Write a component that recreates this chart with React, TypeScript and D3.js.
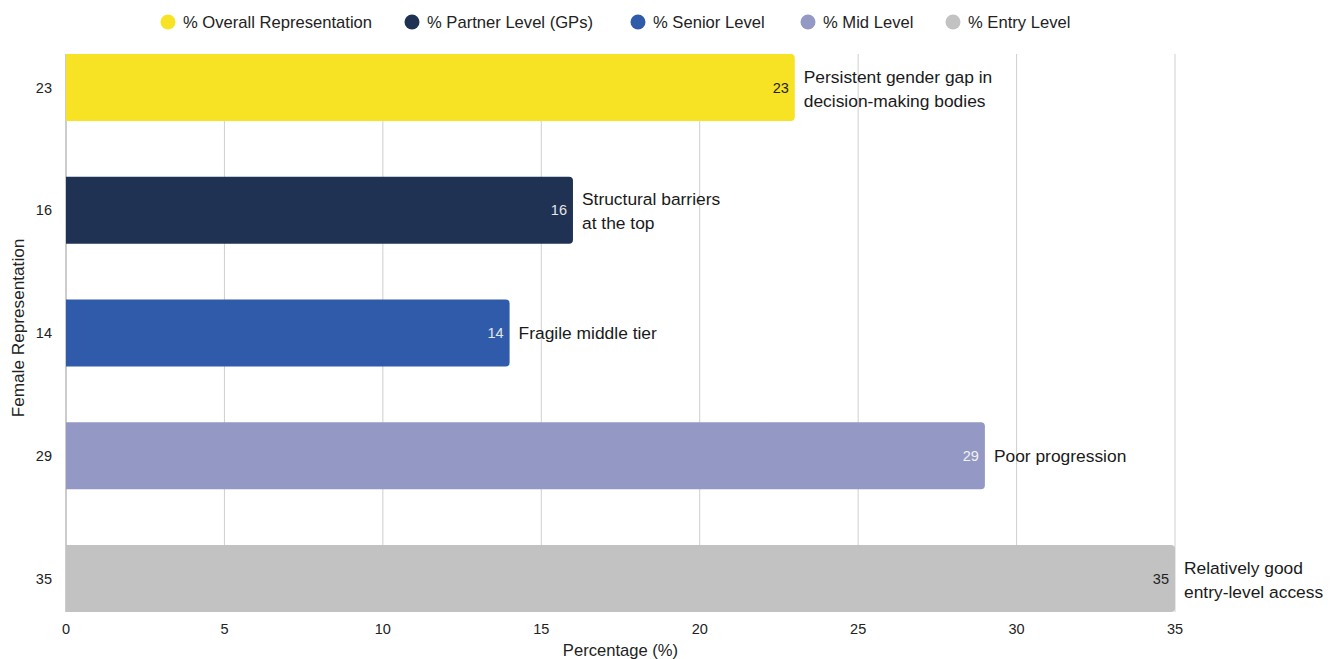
import React from "react";
import * as d3 from "d3";

const categories = ["23", "16", "14", "29", "35"];
const seriesNames = [
  "% Overall Representation",
  "% Partner Level (GPs)",
  "% Senior Level",
  "% Mid Level",
  "% Entry Level",
];
const values = [23, 16, 14, 29, 35];
const notes = [
  ["Persistent gender gap in", "decision-making bodies"],
  ["Structural barriers", "at the top"],
  ["Fragile middle tier"],
  ["Poor progression"],
  ["Relatively good", "entry-level access"],
];
const colors = ["#F7E224", "#1F3253", "#2F5BAA", "#9498C4", "#C2C2C2"];
const valueColors = ["#222", "#E6E6E6", "#E6E6E6", "#F2F2F2", "#222"];
const xTicks = [0, 5, 10, 15, 20, 25, 30, 35];
const legendX = [168, 412, 638, 808, 953];

const W = 1337;
const H = 659;
const M = { left: 66, right: 1175, top: 54, bottom: 612 };
const FONT = "'Liberation Sans', Arial, Helvetica, sans-serif";

function barPath(x0: number, x1: number, y: number, h: number, r: number) {
  const rr = Math.min(r, (x1 - x0) / 2, h / 2);
  return `M${x0},${y}H${x1 - rr}Q${x1},${y} ${x1},${y + rr}V${y + h - rr}Q${x1},${y + h} ${x1 - rr},${y + h}H${x0}Z`;
}

export default function App() {
  const x = d3.scaleLinear().domain([0, 35]).range([M.left, M.right]);
  const y = d3
    .scaleBand<string>()
    .domain(categories)
    .range([M.top, M.bottom])
    .paddingInner(0.454)
    .paddingOuter(0);
  const bw = y.bandwidth();

  return (
    <svg
      width={W}
      height={H}
      style={{ position: "absolute", left: 0, top: 0, background: "#fff", fontFamily: FONT }}
    >
      {/* legend */}
      {seriesNames.map((name, i) => (
        <g key={name}>
          <circle cx={legendX[i]} cy={22} r={7.5} fill={colors[i]} />
          <text x={legendX[i] + 15} y={22} dy="0.35em" fontSize={16.6} fill="#222">
            {name}
          </text>
        </g>
      ))}

      {/* grid */}
      {xTicks.map((t) => (
        <line
          key={t}
          x1={x(t)}
          x2={x(t)}
          y1={M.top}
          y2={M.bottom}
          stroke={t === 0 ? "#999" : "#cfcfcf"}
          strokeWidth={1}
        />
      ))}

      {/* bars */}
      {categories.map((c, i) => {
        const y0 = y(c)!;
        const cy = y0 + bw / 2;
        const x1 = x(values[i]);
        const lines = notes[i];
        const lh = 24;
        return (
          <g key={c}>
            <path d={barPath(x(0), x1, y0, bw, 4)} fill={colors[i]} />
            <text
              x={x1 - 6}
              y={cy}
              dy="0.35em"
              textAnchor="end"
              fontSize={14.5}
              fill={valueColors[i]}
            >
              {values[i]}
            </text>
            {lines.map((l, j) => (
              <text
                key={j}
                x={x1 + 9}
                y={cy + (j - (lines.length - 1) / 2) * lh + (lines.length > 1 ? 1 : 0)}
                dy="0.35em"
                fontSize={17.4}
                fill="#1a1a1a"
              >
                {l}
              </text>
            ))}
            <text x={52} y={cy} dy="0.35em" textAnchor="end" fontSize={14.5} fill="#222">
              {c}
            </text>
          </g>
        );
      })}

      {/* x axis labels */}
      {xTicks.map((t) => (
        <text key={t} x={x(t)} y={629} dy="0.35em" textAnchor="middle" fontSize={14.5} fill="#222">
          {t}
        </text>
      ))}
      <text x={(M.left + M.right) / 2} y={650} dy="0.35em" textAnchor="middle" fontSize={16.6} fill="#222">
        Percentage (%)
      </text>
      <text
        transform={`translate(18,${(M.top + M.bottom) / 2 - 5}) rotate(-90)`}
        dy="0.35em"
        textAnchor="middle"
        fontSize={17.2}
        fill="#222"
      >
        Female Representation
      </text>
    </svg>
  );
}
